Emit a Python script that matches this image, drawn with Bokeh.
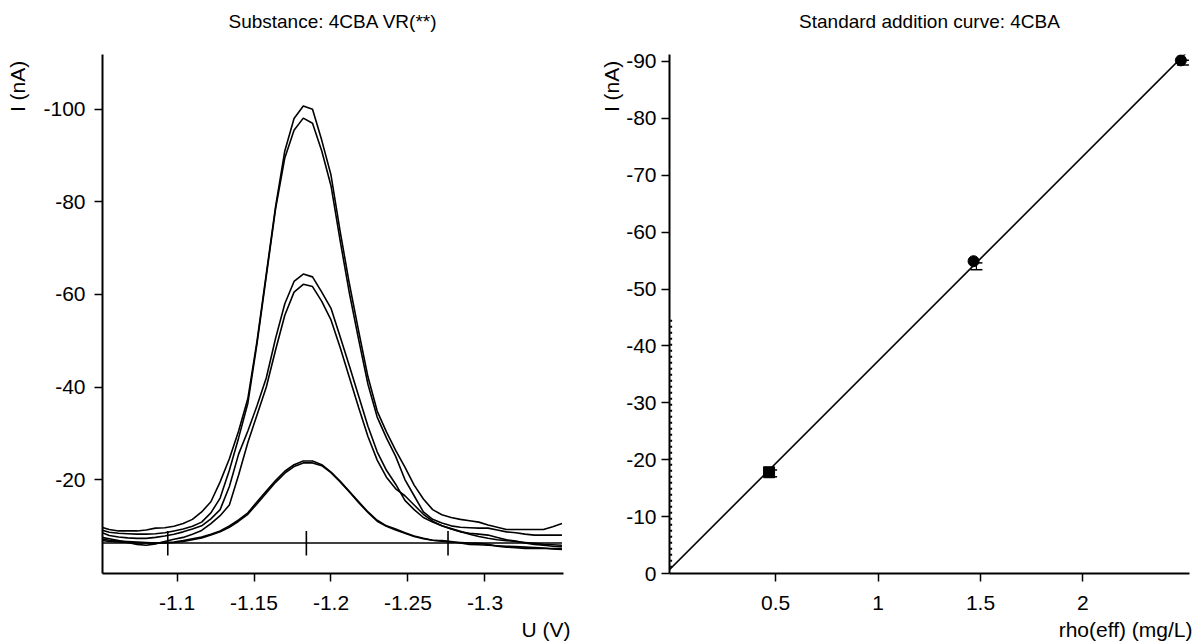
import numpy as np
from bokeh.plotting import figure
from bokeh.models import Range1d, FixedTicker, NumeralTickFormatter, Title
from bokeh.layouts import row
from bokeh.embed import file_html
from bokeh.resources import INLINE

FONT = "Liberation Sans"
NBSP = "\u00a0"

# ---------------- voltammogram data ----------------
U = [-1.050, -1.056, -1.062, -1.068, -1.074, -1.080, -1.086, -1.092, -1.098, -1.104,
     -1.110, -1.116, -1.122, -1.128, -1.134, -1.140, -1.146, -1.152, -1.158, -1.164,
     -1.170, -1.176, -1.182, -1.188, -1.194, -1.200, -1.206, -1.212, -1.218, -1.224,
     -1.230, -1.236, -1.242, -1.248, -1.254, -1.260, -1.266, -1.272, -1.278, -1.284,
     -1.290, -1.296, -1.302, -1.308, -1.314, -1.320, -1.326, -1.332, -1.338, -1.344,
     -1.350]

I_A1 = [-9.8, -9.2, -8.9, -8.9, -8.9, -9.1, -9.5, -9.6, -9.9, -10.5,
        -11.4, -13.0, -15.2, -19.5, -24.5, -30.5, -37.5, -50.0, -64.5, -79.0,
        -91.0, -98.0, -100.7, -100.0, -93.3, -85.8, -73.5, -62.2, -52.0, -42.2,
        -34.8, -30.3, -26.3, -22.7, -18.8, -15.8, -13.5, -12.4, -11.8, -11.4,
        -11.1, -10.8, -10.2, -9.7, -9.2, -9.2, -9.2, -9.2, -9.2, -9.8,
        -10.5]
I_A2 = [-9.2, -8.6, -8.4, -8.3, -8.2, -8.2, -8.3, -8.5, -8.9, -9.3,
        -9.9, -10.8, -12.8, -16.0, -22.0, -29.0, -36.5, -49.5, -64.0, -78.5,
        -89.5, -95.5, -98.1, -97.0, -91.0, -83.5, -71.5, -60.2, -50.2, -40.6,
        -33.5, -29.0, -25.0, -20.0, -16.5, -13.0, -11.4, -10.6, -10.0, -9.7,
        -9.6, -9.5, -9.5, -9.1, -8.7, -8.5, -8.2, -8.0, -8.0, -8.0,
        -8.0]
I_B1 = [-8.7, -7.9, -7.6, -7.4, -7.3, -7.3, -7.5, -7.8, -8.2, -8.7,
        -9.3, -10.0, -11.5, -13.5, -18.5, -25.5, -30.5, -36.0, -42.0, -50.5,
        -58.0, -62.8, -64.4, -63.8, -60.5, -57.0, -50.8, -44.5, -38.0, -31.5,
        -26.0, -22.0, -19.0, -15.5, -13.5, -11.8, -10.8, -10.0, -9.4, -8.8,
        -8.2, -7.7, -7.3, -7.0, -6.8, -6.6, -6.4, -6.2, -6.0, -5.9,
        -5.8]
I_B2 = [-7.6, -7.2, -6.8, -6.4, -6.0, -5.8, -6.1, -6.6, -7.1, -7.5,
        -8.2, -9.0, -10.5, -12.2, -14.5, -21.0, -28.0, -34.0, -40.0, -48.0,
        -55.5, -60.5, -62.2, -61.7, -58.5, -54.5, -48.5, -42.0, -35.5, -29.3,
        -24.2, -20.5, -18.0, -16.5, -14.5, -12.5, -11.0, -10.0, -9.3, -8.7,
        -8.4, -8.2, -8.0, -7.5, -7.0, -6.7, -6.3, -6.0, -5.8, -5.6,
        -5.5]
I_C1 = [-6.9, -6.6, -6.5, -6.4, -6.3, -6.3, -6.3, -6.4, -6.5, -6.8,
        -7.2, -7.6, -8.2, -8.9, -10.0, -11.3, -12.8, -15.2, -17.5, -19.8,
        -21.8, -23.2, -24.0, -24.0, -23.2, -21.6, -19.6, -17.4, -15.2, -13.0,
        -11.2, -10.0, -9.3, -8.5, -7.8, -7.3, -6.9, -6.7, -6.5, -6.4,
        -6.3, -6.2, -6.0, -5.6, -5.4, -5.3, -5.1, -5.1, -5.1, -5.1,
        -5.1]
I_C2 = [-7.2, -6.9, -6.7, -6.6, -6.5, -6.4, -6.3, -6.3, -6.4, -6.6,
        -7.0, -7.4, -8.0, -8.7, -9.7, -11.0, -12.5, -14.8, -17.1, -19.4,
        -21.4, -22.8, -23.6, -23.6, -23.0, -21.5, -19.5, -17.3, -15.0, -12.9,
        -11.0, -9.9, -9.1, -8.4, -7.7, -7.2, -6.9, -6.8, -6.6, -6.3,
        -6.0, -5.9, -5.8, -5.7, -5.6, -5.5, -5.4, -5.3, -5.2, -5.0,
        -4.9]

BASE_U = [-1.05, -1.35]
BASE_I = [-6.3, -6.3]
MARK_U = [-1.094, -1.184, -1.276]
MARK_LO = [-3.6, -3.6, -3.6]
MARK_HI = [-8.9, -8.9, -8.9]

U_TICKS = [-1.1, -1.15, -1.2, -1.25, -1.3]
I_TICKS_LEFT = [-20, -40, -60, -80, -100]

# ---------------- standard addition data ----------------
RHO = [0.468, 1.466, 2.478]
I_STD = [-17.8, -54.9, -90.2]
STD_MARKER = ["square", "circle", "circle"]
ERR_RHO = [0.478, 1.480, 2.488]
ERR_LO = [-17.0, -53.4, -89.4]
ERR_HI = [-18.2, -54.6, -90.2]
CI_RHO = [-0.01, -0.01]
CI_I = [-1.0, -44.6]
RHO_TICKS = [0.5, 1, 1.5, 2]
I_TICKS_RIGHT = [0, -10, -20, -30, -40, -50, -60, -70, -80, -90]


def style(p, ylab, pad, ylab_standoff, ytick_standoff):
    p.outline_line_color = None
    p.xgrid.grid_line_color = None
    p.ygrid.grid_line_color = None
    p.background_fill_color = "white"
    p.border_fill_color = "white"
    for ax in (p.xaxis, p.yaxis):
        ax.axis_line_width = 2
        ax.axis_line_color = "black"
        ax.major_tick_line_width = 1.5
        ax.major_tick_line_color = "black"
        ax.major_tick_in = 0
        ax.major_tick_out = 8
        ax.minor_tick_line_color = None
        ax.major_label_text_font = FONT
        ax.major_label_text_font_size = "21px"
        ax.major_label_text_color = "black"
    p.xaxis.major_label_standoff = 14
    p.yaxis.major_label_standoff = ytick_standoff
    p.yaxis.formatter = NumeralTickFormatter(format="0")
    # axis title sits at the top end of the axis (as in the original software)
    p.yaxis.axis_label = NBSP * pad + ylab
    p.yaxis.axis_label_text_font = FONT
    p.yaxis.axis_label_text_font_size = "21px"
    p.yaxis.axis_label_text_font_style = "normal"
    p.yaxis.axis_label_text_color = "black"
    p.yaxis.axis_label_standoff = ylab_standoff


def titles(p, top, bottom, bottom_offset):
    p.title.text = ""
    # empty spacer keeps the title well above the frame
    p.add_layout(Title(text=NBSP, text_font=FONT, text_font_size="6px"), "above")
    p.add_layout(Title(text=top, align="center", text_font=FONT, text_font_size="19px",
                       text_font_style="normal", text_color="black"), "above")
    p.add_layout(Title(text=bottom, align="right", offset=bottom_offset, standoff=6,
                       text_font=FONT, text_font_size="21px", text_font_style="normal",
                       text_color="black"), "below")


# ---------------- left figure ----------------
p1 = figure(width=597, height=643, output_backend="svg", toolbar_location=None,
            x_range=Range1d(-1.0516, -1.351), y_range=Range1d(0.3, -111.85),
            min_border_left=102, min_border_right=34, min_border_top=54, min_border_bottom=70)
style(p1, "I (nA)", 78, 11, 9)
p1.xaxis.ticker = FixedTicker(ticks=U_TICKS)
p1.xaxis.formatter = NumeralTickFormatter(format="0.[00]")
p1.yaxis.ticker = FixedTicker(ticks=I_TICKS_LEFT)

for curve in (I_A1, I_A2, I_B1, I_B2, I_C1, I_C2):
    p1.line(U, curve, line_color="black", line_width=1.6)
p1.line(BASE_U, BASE_I, line_color="black", line_width=1.5)
p1.segment(x0=MARK_U, y0=MARK_LO, x1=MARK_U, y1=MARK_HI, line_color="black", line_width=1.6)
titles(p1, "Substance: 4CBA VR(**)", "U (V)", -7)

# ---------------- right figure ----------------
p2 = figure(width=598, height=643, output_backend="svg", toolbar_location=None,
            x_range=Range1d(-0.018, 2.52), y_range=Range1d(0.0, -91.23),
            min_border_left=71, min_border_right=6, min_border_top=54, min_border_bottom=70)
style(p2, "I (nA)", 78, 0, 5)
p2.xaxis.ticker = FixedTicker(ticks=RHO_TICKS)
p2.xaxis.formatter = NumeralTickFormatter(format="0.[0]")
p2.yaxis.ticker = FixedTicker(ticks=I_TICKS_RIGHT)

slope, intercept = np.polyfit(RHO, I_STD, 1)
x_fit = np.array([-intercept / slope, p2.x_range.end])
p2.line(x_fit, slope * x_fit + intercept, line_color="black", line_width=1.6)
p2.line(CI_RHO, CI_I, line_color="black", line_width=2, line_dash="2 4")
p2.segment(x0=ERR_RHO, y0=ERR_LO, x1=ERR_RHO, y1=ERR_HI, line_color="black", line_width=1.2)
p2.scatter(ERR_RHO, ERR_LO, marker="dash", size=12, line_color="black", line_width=1.5)
p2.scatter(ERR_RHO, ERR_HI, marker="dash", size=12, line_color="black", line_width=1.5)
p2.scatter(RHO, I_STD, marker=STD_MARKER, size=11, fill_color="black", line_color="black")
titles(p2, "Standard addition curve: 4CBA", "rho(eff) (mg/L)", -3)

layout = row(p1, p2)
open("out.html", "w").write(file_html(layout, INLINE))
